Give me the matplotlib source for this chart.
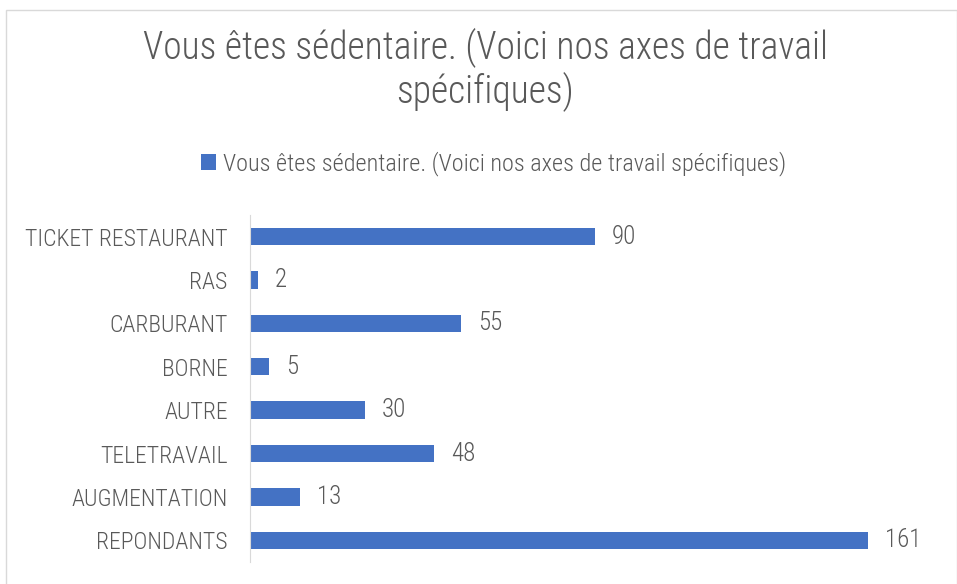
import matplotlib.pyplot as plt
from matplotlib.patches import Rectangle

categories = ['TICKET RESTAURANT', 'RAS', 'CARBURANT', 'BORNE', 'AUTRE',
              'TELETRAVAIL', 'AUGMENTATION', 'REPONDANTS']
values = [90, 2, 55, 5, 30, 48, 13, 161]
title_lines = ['Vous êtes sédentaire. (Voici nos axes de travail', 'spécifiques)']
series_name = 'Vous êtes sédentaire. (Voici nos axes de travail spécifiques)'

plt.rcParams['font.family'] = ['Roboto Condensed', 'Liberation Sans', 'DejaVu Sans']
plt.rcParams['font.weight'] = 'light'
BLUE = '#4472C4'
GREY = '#595959'

fig = plt.figure(figsize=(9.57, 5.84), dpi=100)
ax = fig.add_axes([0.2612, 0.0377, 0.7221, 0.5943])

pos = list(range(len(categories)))[::-1]
bars = ax.barh(pos, values, height=0.4, color=BLUE, label=series_name)
ax.bar_label(bars, padding=12, fontsize=18, color=GREY)

ax.set_xlim(0, 180)
ax.set_ylim(-0.5, len(categories) - 0.5)
ax.set_yticks(pos)
ax.set_yticklabels(categories, fontsize=17, color=GREY)
ax.set_xticks([])
ax.tick_params(axis='y', length=0, pad=16)
for s in ['top', 'right', 'bottom']:
    ax.spines[s].set_visible(False)
ax.spines['left'].set_color('#D9D9D9')

# title, two lines placed by baseline
for line, yb in zip(title_lines, [0.899, 0.8236]):
    fig.text(0.507, yb, line, ha='center', va='baseline', fontsize=27, color=GREY)

fig.legend(loc='center', bbox_to_anchor=(0.516, 0.72), frameon=False,
           fontsize=17.5, labelcolor=GREY, handlelength=0.6, handleheight=0.6,
           handletextpad=0.3)

# chart border
fig.patches.append(Rectangle((0.006, -0.01), 0.994, 0.993, transform=fig.transFigure,
                             fill=False, edgecolor='#D9D9D9', linewidth=1))

fig.savefig('out.png', dpi=100)
